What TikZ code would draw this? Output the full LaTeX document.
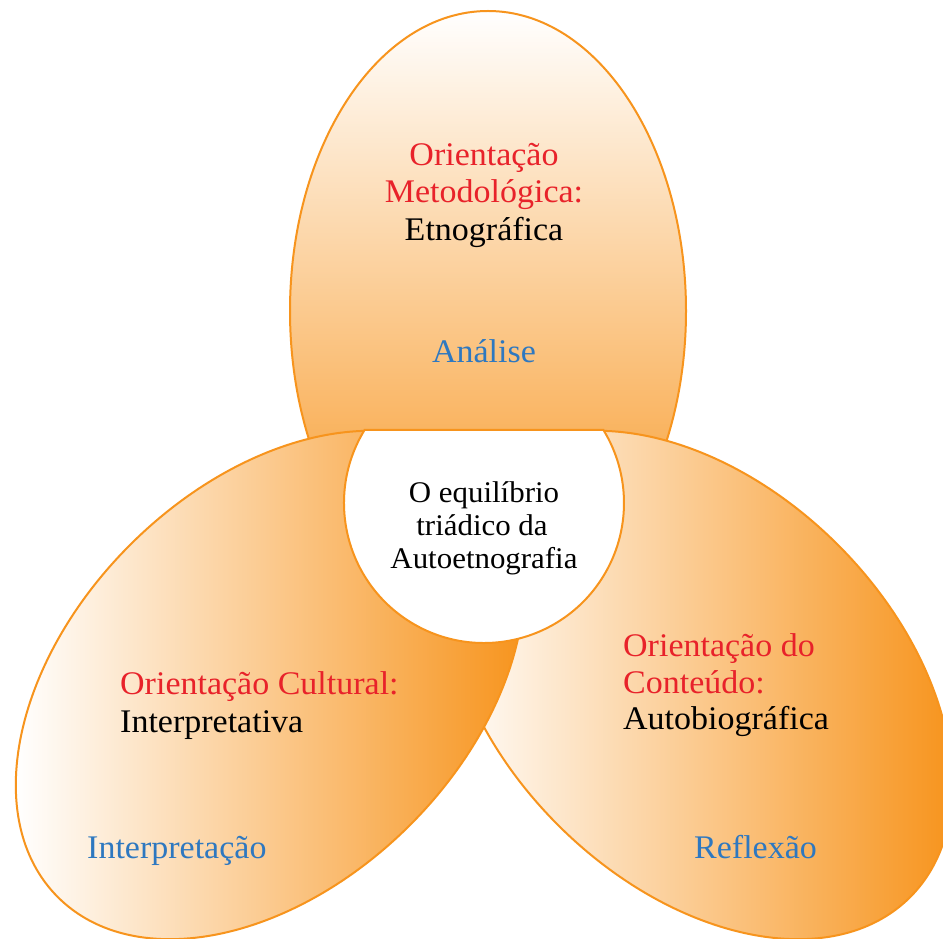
\documentclass[tikz,border=0pt]{standalone}
\usepackage{fontspec}
\setmainfont[FakeStretch=1.03]{Liberation Serif}
\definecolor{orng}{HTML}{F7941D}
\definecolor{redtxt}{HTML}{E8222A}
\definecolor{bluetxt}{HTML}{2E78C0}
\tikzset{
  outline/.style={draw=orng, line width=2pt},
  lbl/.style={inner sep=0pt, font=\fontsize{33}{37}\selectfont},
  clbl/.style={inner sep=0pt, font=\fontsize{30}{33}\selectfont, text=black},
  rlbl/.style={lbl, text=redtxt},
  blbl/.style={lbl, text=bluetxt},
  klbl/.style={lbl, text=black},
}
\begin{document}
\begin{tikzpicture}[x=1pt,y=1pt]
\useasboundingbox (0,0) rectangle (943,938);
\clip (0,0) rectangle (943,938);
\fill[white] (0,0) rectangle (943,938);
% top ellipse
\shade[top color=white, bottom color=orng] (488,627) ellipse [x radius=198, y radius=300];
\draw[outline] (488,627) ellipse [x radius=198, y radius=300];
% right ellipse
\begin{scope}
  \clip[rotate around={-45:(698,253)}] (698,253) ellipse [x radius=300, y radius=198];
  \shade[left color=white, right color=orng] (443.8,-10) rectangle (952.2,520);
\end{scope}
\draw[outline, rotate around={-45:(698,253)}] (698,253) ellipse [x radius=300, y radius=198];
% left ellipse
\begin{scope}
  \clip[rotate around={45:(270,253)}] (270,253) ellipse [x radius=300, y radius=198];
  \shade[left color=white, right color=orng] (15.8,-10) rectangle (524.2,520);
\end{scope}
\draw[outline, rotate around={45:(270,253)}] (270,253) ellipse [x radius=300, y radius=198];
% central segment
\coordinate (ctr) at (484,435);
\filldraw[fill=white, outline] (ctr) ++(148.57:140) arc[start angle=148.57, end angle=391.43, radius=140] -- cycle;
% top texts
\node[rlbl, anchor=base] (t1) at (484,772) {Orientação};
\node[rlbl, anchor=base] (t2) at (484,735) {Metodológica:};
\node[klbl, anchor=base] (t3) at (484,697) {Etnográfica};
\node[blbl, anchor=base] (t4) at (484,575) {Análise};
% center texts
\node[clbl, anchor=base] (c1) at (484,435) {O equilíbrio};
\node[clbl, anchor=base] (c2) at (482,402) {triádico da};
\node[clbl, anchor=base] (c3) at (484,369) {Autoetnografia};
% left texts
\node[rlbl, anchor=base west] (l1) at (120,243) {Orientação Cultural:};
\node[klbl, anchor=base west] (l2) at (120,205) {Interpretativa};
\node[blbl, anchor=base west] (l3) at (87,80) {Interpretação};
% right texts
\node[rlbl, anchor=base west] (r1) at (623,281) {Orientação do};
\node[rlbl, anchor=base west] (r2) at (623,244) {Conteúdo:};
\node[klbl, anchor=base west] (r3) at (623,208) {Autobiográfica};
\node[blbl, anchor=base west] (r4) at (694,80) {Reflexão};
\end{tikzpicture}
\end{document}
